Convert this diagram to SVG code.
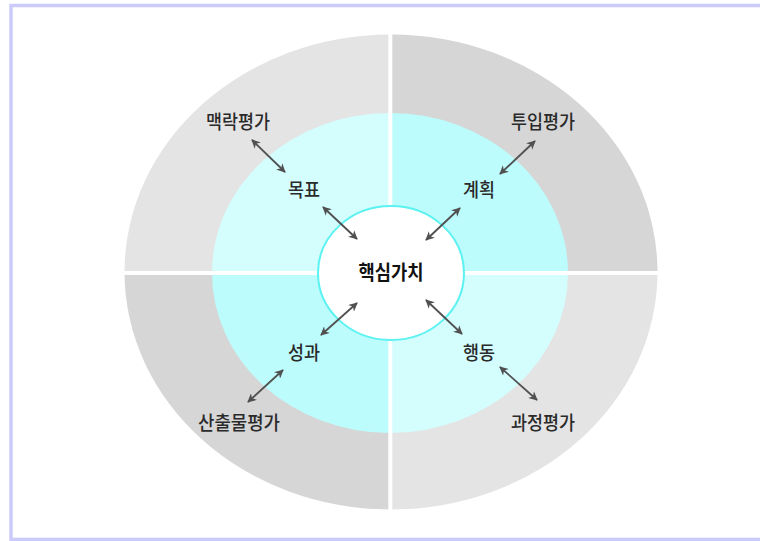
<svg xmlns="http://www.w3.org/2000/svg" width="760" height="541" viewBox="0 0 760 541">
<defs>
<style>
.lbl{font-family:"Noto Sans CJK KR","Noto Sans",sans-serif;font-size:19px;font-weight:500;fill:#2a2a2a;text-anchor:middle}
.core{font-family:"Noto Sans CJK KR","Noto Sans",sans-serif;font-size:20px;font-weight:bold;fill:#111;text-anchor:middle}
.arr{stroke:#505050;stroke-width:1.8;fill:none;marker-start:url(#ah);marker-end:url(#ah)}
.sep{stroke:#fff;stroke-width:4}
</style>
<marker id="ah" viewBox="0 0 10 10" refX="9" refY="5" markerWidth="9" markerHeight="9" orient="auto-start-reverse" markerUnits="userSpaceOnUse">
<path d="M0,0 L10,5 L0,10 L3,5 Z" fill="#505050"/>
</marker>
<clipPath id="outer"><ellipse cx="391" cy="272" rx="266.5" ry="237.5"/></clipPath>
<clipPath id="inner"><ellipse cx="390" cy="273" rx="178" ry="160"/></clipPath>
</defs>
<rect x="0" y="0" width="760" height="541" fill="#fff"/>
<rect x="11" y="5.5" width="760" height="534" fill="none" stroke="#cbcbfa" stroke-width="3.5"/>
<g id="outer-ring" clip-path="url(#outer)">
<rect x="120" y="30" width="271" height="243" fill="#e4e4e4"/>
<rect x="391" y="30" width="270" height="243" fill="#d6d6d6"/>
<rect x="120" y="273" width="271" height="240" fill="#d6d6d6"/>
<rect x="391" y="273" width="270" height="240" fill="#e4e4e4"/>
</g>
<g id="inner-ring" clip-path="url(#inner)">
<rect x="210" y="110" width="181" height="163" fill="#d4fefe"/>
<rect x="391" y="110" width="180" height="163" fill="#bcfcfc"/>
<rect x="210" y="273" width="181" height="163" fill="#bcfcfc"/>
<rect x="391" y="273" width="180" height="163" fill="#d4fefe"/>
</g>
<g id="separators">
<line class="sep" x1="390.3" y1="30" x2="390.3" y2="515"/>
<line class="sep" x1="120" y1="273" x2="662" y2="273"/>
</g>
<g id="core">
<ellipse cx="391" cy="273" rx="73" ry="67" fill="#fff" stroke="#5cf2f2" stroke-width="2"/>
<text class="core" x="391" y="280" textLength="65" lengthAdjust="spacingAndGlyphs">핵심가치</text>
</g>
<g id="n-goal"><text class="lbl" x="304" y="197" textLength="32" lengthAdjust="spacingAndGlyphs">목표</text></g>
<g id="n-plan"><text class="lbl" x="479" y="197" textLength="32" lengthAdjust="spacingAndGlyphs">계획</text></g>
<g id="n-result"><text class="lbl" x="304" y="360" textLength="32" lengthAdjust="spacingAndGlyphs">성과</text></g>
<g id="n-action"><text class="lbl" x="479" y="360" textLength="32" lengthAdjust="spacingAndGlyphs">행동</text></g>
<g id="n-context"><text class="lbl" x="238" y="129" textLength="64" lengthAdjust="spacingAndGlyphs">맥락평가</text></g>
<g id="n-input"><text class="lbl" x="543" y="129" textLength="64" lengthAdjust="spacingAndGlyphs">투입평가</text></g>
<g id="n-output"><text class="lbl" x="239" y="430" textLength="82" lengthAdjust="spacingAndGlyphs">산출물평가</text></g>
<g id="n-process"><text class="lbl" x="543" y="430" textLength="64" lengthAdjust="spacingAndGlyphs">과정평가</text></g>
<g id="connectors">
<line class="arr" x1="252" y1="140" x2="285" y2="172"/>
<line class="arr" x1="323" y1="207" x2="357" y2="239"/>
<line class="arr" x1="535" y1="141" x2="500" y2="174"/>
<line class="arr" x1="460" y1="208" x2="426" y2="240"/>
<line class="arr" x1="357" y1="303" x2="321" y2="335"/>
<line class="arr" x1="283" y1="370" x2="248" y2="402"/>
<line class="arr" x1="426" y1="300" x2="462" y2="334"/>
<line class="arr" x1="500" y1="367" x2="537" y2="400"/>
</g>
</svg>
